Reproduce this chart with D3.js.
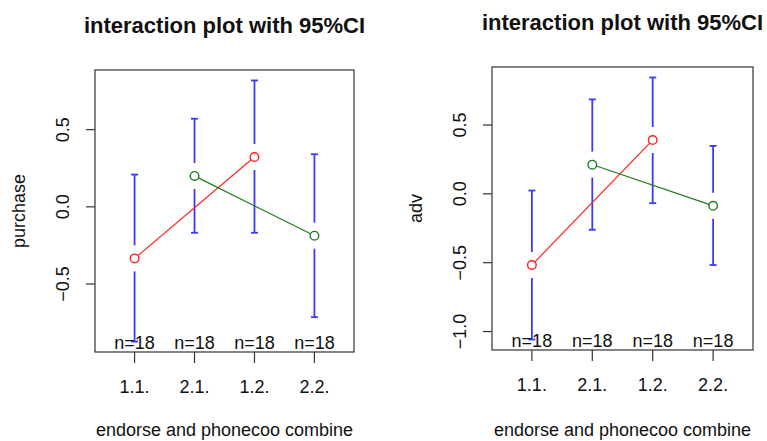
<!DOCTYPE html>
<html lang="en">
<head>
<meta charset="utf-8"/>
<title>interaction plot with 95%CI</title>
<script src="https://d3js.org/d3.v7.min.js"></script>
<style>
  body { margin: 0; background: #fff; }
  text { font-family: "Liberation Sans", Arial, Helvetica, sans-serif; fill: #111; }
</style>
</head>
<body>
<svg id="chart" width="767" height="441"></svg>
<script>
// values
const categories = ["1.1.", "2.1.", "1.2.", "2.2."];
const nLabels = ["n=18", "n=18", "n=18", "n=18"];
const purchaseMean  = [-0.334, 0.200, 0.323, -0.187];
const purchaseLower = [-0.873, -0.168, -0.168, -0.715];
const purchaseUpper = [0.209, 0.571, 0.819, 0.341];
const advMean  = [-0.517, 0.212, 0.391, -0.087];
const advLower = [-1.058, -0.261, -0.068, -0.517];
const advUpper = [0.024, 0.686, 0.845, 0.348];
const purchaseTicks = [-0.5, 0, 0.5];
const advTicks = [-1, -0.5, 0, 0.5];
// endorse level of each category: 1 -> red line, 2 -> green line
const groups = [{idx: [0, 2], color: "#ff2020"}, {idx: [1, 3], color: "#1e7a1e"}];

const panels = [
  {ylab: "purchase", mean: purchaseMean, lo: purchaseLower, hi: purchaseUpper, ticks: purchaseTicks,
   box: {x0: 95, x1: 354, y0: 70, y1: 352}},
  {ylab: "adv", mean: advMean, lo: advLower, hi: advUpper, ticks: advTicks,
   box: {x0: 492, x1: 753, y0: 67, y1: 350}}
];

const svg = d3.select("#chart");
const fmt = d3.format(".1f");

panels.forEach(function(p) {
  const b = p.box;
  const g = svg.append("g");
  const ymin = d3.min(p.lo), ymax = d3.max(p.hi);
  const ext = (ymax - ymin) * 0.04;
  const y = d3.scaleLinear().domain([ymin - ext, ymax + ext]).range([b.y1, b.y0]);
  const x = d3.scaleLinear().domain([0.5 - 0.16, 4.5 + 0.16]).range([b.x0, b.x1]);
  const xi = i => x(i + 1);

  // error bars, with a gap around the point
  const gap = 13, cap = 3.5;
  const bars = g.selectAll("g.bar").data(categories).enter().append("g")
    .attr("stroke", "#3a3aff").attr("stroke-width", 1.8);
  bars.append("line")
    .attr("x1", (d, i) => xi(i)).attr("x2", (d, i) => xi(i))
    .attr("y1", (d, i) => y(p.hi[i])).attr("y2", (d, i) => y(p.mean[i]) - gap);
  bars.append("line")
    .attr("x1", (d, i) => xi(i)).attr("x2", (d, i) => xi(i))
    .attr("y1", (d, i) => y(p.mean[i]) + gap).attr("y2", (d, i) => y(p.lo[i]));
  bars.append("line")
    .attr("x1", (d, i) => xi(i) - cap).attr("x2", (d, i) => xi(i) + cap)
    .attr("y1", (d, i) => y(p.hi[i])).attr("y2", (d, i) => y(p.hi[i]));
  bars.append("line")
    .attr("x1", (d, i) => xi(i) - cap).attr("x2", (d, i) => xi(i) + cap)
    .attr("y1", (d, i) => y(p.lo[i])).attr("y2", (d, i) => y(p.lo[i]));

  // lines between the means, stopped at the circle edge
  const r = 4.3;
  groups.forEach(function(gr) {
    const a = gr.idx[0], c = gr.idx[1];
    const xa = xi(a), ya = y(p.mean[a]), xc = xi(c), yc = y(p.mean[c]);
    const len = Math.hypot(xc - xa, yc - ya);
    const ux = (xc - xa) / len, uy = (yc - ya) / len;
    g.append("line")
      .attr("x1", xa + ux * r).attr("y1", ya + uy * r)
      .attr("x2", xc - ux * r).attr("y2", yc - uy * r)
      .attr("stroke", gr.color).attr("stroke-width", 1.2);
    g.selectAll(null).data(gr.idx).enter().append("circle")
      .attr("cx", i => xi(i)).attr("cy", i => y(p.mean[i])).attr("r", r)
      .attr("fill", "none").attr("stroke", gr.color).attr("stroke-width", 1.4);
  });

  // n labels
  g.selectAll("text.n").data(nLabels).enter().append("text")
    .attr("x", (d, i) => xi(i)).attr("y", b.y1 - 3)
    .attr("text-anchor", "middle").attr("font-size", 18).text(d => d);

  // box
  g.append("rect").attr("x", b.x0).attr("y", b.y0)
    .attr("width", b.x1 - b.x0).attr("height", b.y1 - b.y0)
    .attr("fill", "none").attr("stroke", "#333").attr("stroke-width", 1.2);

  // x axis
  g.selectAll("line.xt").data(categories).enter().append("line")
    .attr("x1", (d, i) => xi(i)).attr("x2", (d, i) => xi(i))
    .attr("y1", b.y1).attr("y2", b.y1 + 11)
    .attr("stroke", "#333").attr("stroke-width", 1.2);
  g.selectAll("text.xt").data(categories).enter().append("text")
    .attr("x", (d, i) => xi(i)).attr("y", b.y1 + 41)
    .attr("text-anchor", "middle").attr("font-size", 18).text(d => d);

  // y axis
  g.selectAll("line.yt").data(p.ticks).enter().append("line")
    .attr("x1", b.x0 - 9).attr("x2", b.x0)
    .attr("y1", d => y(d)).attr("y2", d => y(d))
    .attr("stroke", "#333").attr("stroke-width", 1.2);
  g.selectAll("text.yt").data(p.ticks).enter().append("text")
    .attr("transform", d => "translate(" + (b.x0 - 26) + "," + y(d) + ") rotate(-90)")
    .attr("text-anchor", "middle").attr("font-size", 18).text(d => fmt(d));

  // labels
  g.append("text")
    .attr("transform", "translate(" + (b.x0 - 70) + "," + ((b.y0 + b.y1) / 2) + ") rotate(-90)")
    .attr("text-anchor", "middle").attr("font-size", 18).text(p.ylab);
  g.append("text")
    .attr("x", (b.x0 + b.x1) / 2).attr("y", Math.min(b.y1 + 86, 436))
    .attr("text-anchor", "middle").attr("font-size", 18).text("endorse and phonecoo combine");
  g.append("text")
    .attr("x", (b.x0 + b.x1) / 2).attr("y", b.y0 - 37)
    .attr("text-anchor", "middle").attr("font-size", 22).attr("font-weight", "bold")
    .text("interaction plot with 95%CI");
});
</script>
</body>
</html>
